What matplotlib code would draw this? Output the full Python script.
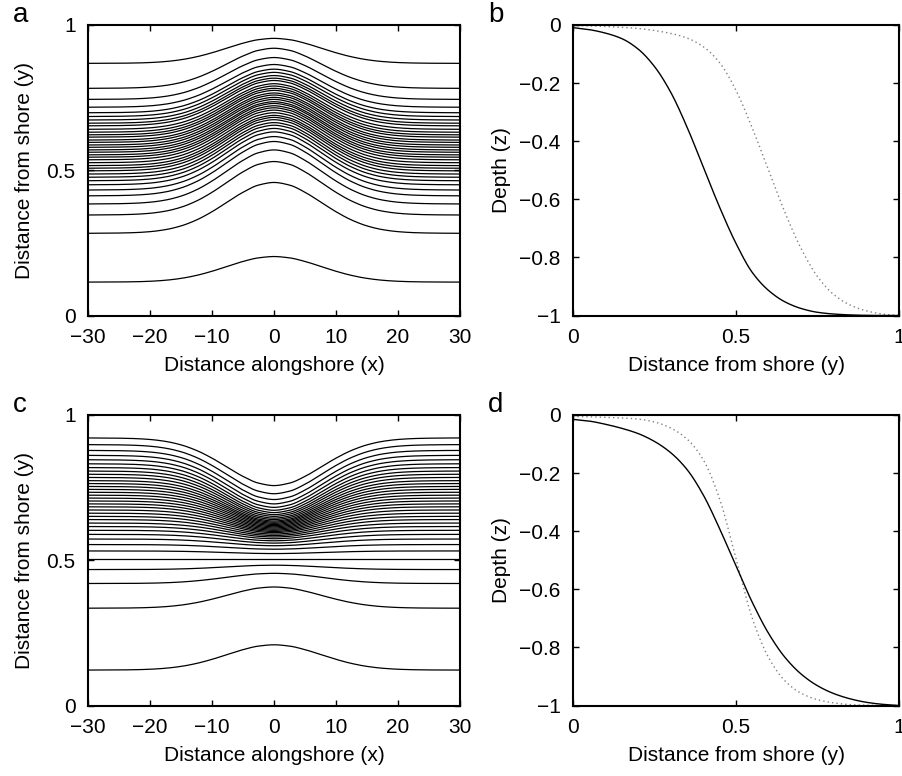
import numpy as np
import matplotlib
matplotlib.use("Agg")
import matplotlib.pyplot as plt

plt.rcParams['font.family'] = ['Liberation Sans', 'DejaVu Sans']

# ---------------- data ----------------
# alongshore bump weight (symmetric about x = 0)
bump_x = [-30, -27.5, -25, -22.5, -20, -17.5, -15, -12.5, -10, -7.5, -5, -2.5,
          0, 2.5, 5, 7.5, 10, 12.5, 15, 17.5, 20, 22.5, 25, 27.5, 30]
bump_w = [0.0, 0.0015, 0.005, 0.013, 0.032, 0.072, 0.145, 0.262, 0.424, 0.617, 0.807, 0.948,
          1.0, 0.948, 0.807, 0.617, 0.424, 0.262, 0.145, 0.072, 0.032, 0.013, 0.005, 0.0015, 0.0]

# panel a: contour positions far from the bump and at x = 0
a_far = [0.115, 0.283, 0.346, 0.384, 0.412, 0.432, 0.450, 0.464, 0.476, 0.487,
         0.498, 0.507, 0.516, 0.526, 0.536, 0.545, 0.553, 0.562, 0.570, 0.579,
         0.587, 0.596, 0.604, 0.614, 0.622, 0.631, 0.641, 0.653, 0.662, 0.673,
         0.685, 0.698, 0.717, 0.744, 0.782, 0.868]
a_mid = [0.203, 0.458, 0.530, 0.570, 0.599, 0.616, 0.632, 0.644, 0.655, 0.664,
         0.674, 0.682, 0.689, 0.698, 0.707, 0.715, 0.722, 0.730, 0.736, 0.744,
         0.751, 0.759, 0.766, 0.775, 0.782, 0.790, 0.798, 0.809, 0.817, 0.826,
         0.837, 0.848, 0.864, 0.888, 0.920, 0.954]

# panel c
c_far = [0.122, 0.335, 0.420, 0.468, 0.506, 0.532, 0.554, 0.573, 0.589, 0.603,
         0.616, 0.628, 0.640, 0.651, 0.662, 0.673, 0.684, 0.694, 0.704, 0.714,
         0.724, 0.734, 0.744, 0.754, 0.764, 0.774, 0.785, 0.796, 0.807, 0.819,
         0.832, 0.846, 0.861, 0.878, 0.898, 0.921]
c_mid = [0.209, 0.408, 0.455, 0.483, 0.506, 0.523, 0.538, 0.550, 0.559, 0.567,
         0.574, 0.580, 0.585, 0.590, 0.595, 0.599, 0.603, 0.607, 0.611, 0.615,
         0.619, 0.623, 0.627, 0.631, 0.635, 0.640, 0.645, 0.651, 0.657, 0.664,
         0.672, 0.682, 0.694, 0.709, 0.729, 0.757]

# depth profiles (y sampled every 0.05)
prof_y = [0.0, 0.05, 0.10, 0.15, 0.20, 0.25, 0.30, 0.35, 0.40, 0.45, 0.50,
          0.55, 0.60, 0.65, 0.70, 0.75, 0.80, 0.85, 0.90, 0.95, 1.0]
b_solid = [-0.009, -0.016, -0.028, -0.047, -0.083, -0.143, -0.232, -0.352, -0.490, -0.628, -0.752,
           -0.852, -0.914, -0.953, -0.976, -0.989, -0.995, -0.998, -0.9995, -1.0, -1.0]
b_dotted = [-0.002, -0.003, -0.005, -0.008, -0.012, -0.019, -0.029, -0.045, -0.075, -0.130, -0.225,
            -0.355, -0.500, -0.645, -0.770, -0.866, -0.928, -0.964, -0.984, -0.995, -1.0]
d_solid = [-0.015, -0.021, -0.032, -0.046, -0.064, -0.091, -0.130, -0.188, -0.276, -0.392, -0.520,
           -0.645, -0.752, -0.834, -0.892, -0.932, -0.959, -0.977, -0.989, -0.996, -1.0]
d_dotted = [-0.005, -0.006, -0.008, -0.010, -0.014, -0.024, -0.045, -0.083, -0.155, -0.290, -0.495,
            -0.700, -0.835, -0.915, -0.958, -0.980, -0.991, -0.997, -0.999, -1.0, -1.0]

x_ticks = [-30, -20, -10, 0, 10, 20, 30]
x_tick_labels = ["\u221230", "\u221220", "\u221210", "0", "10", "20", "30"]
y_ticks_map = [0, 0.5, 1]
y_tick_labels_map = ["0", "0.5", "1"]
z_ticks = [-1, -0.8, -0.6, -0.4, -0.2, 0]
z_tick_labels = ["\u22121", "\u22120.8", "\u22120.6", "\u22120.4", "\u22120.2", "0"]


# ---------------- helpers ----------------
def pchip(xk, yk, x):
    xk = np.asarray(xk, float)
    yk = np.asarray(yk, float)
    x = np.asarray(x, float)
    h = np.diff(xk)
    d = np.diff(yk) / h
    m = np.zeros_like(yk)
    for k in range(1, len(xk) - 1):
        if d[k - 1] * d[k] > 0:
            w1 = 2 * h[k] + h[k - 1]
            w2 = h[k] + 2 * h[k - 1]
            m[k] = (w1 + w2) / (w1 / d[k - 1] + w2 / d[k])
        else:
            m[k] = 0.0
    m[0] = d[0]
    m[-1] = d[-1]
    i = np.clip(np.searchsorted(xk, x) - 1, 0, len(xk) - 2)
    t = (x - xk[i]) / h[i]
    h00 = 2 * t**3 - 3 * t**2 + 1
    h10 = t**3 - 2 * t**2 + t
    h01 = -2 * t**3 + 3 * t**2
    h11 = t**3 - t**2
    return h00 * yk[i] + h10 * h[i] * m[i] + h01 * yk[i + 1] + h11 * h[i] * m[i + 1]


FS = 15


def style_axes(ax):
    for s in ax.spines.values():
        s.set_linewidth(1.5)
    ax.tick_params(direction='in', top=True, right=True, length=4, width=1,
                   labelsize=FS)
    ax.tick_params(axis='x', pad=9)
    ax.tick_params(axis='y', pad=9)


xx = np.linspace(-30, 30, 601)
gx = pchip(bump_x, bump_w, xx)
yy = np.linspace(0, 1, 401)

fig = plt.figure(figsize=(9.03, 7.76), dpi=100)

W, H = 903.0, 776.0
pos_a = [88 / W, 1 - 315.5 / H, 372 / W, 290.5 / H]
pos_b = [573 / W, 1 - 315.5 / H, 326 / W, 290.5 / H]
pos_c = [88 / W, 1 - 705.5 / H, 372 / W, 290.5 / H]
pos_d = [573 / W, 1 - 705.5 / H, 326 / W, 290.5 / H]


def map_panel(pos, far, mid):
    ax = fig.add_axes(pos)
    for yf, ym in zip(far, mid):
        ax.plot(xx, yf + (ym - yf) * gx, color='black', lw=0.9)
    ax.set_xlim(-30, 30)
    ax.set_ylim(0, 1)
    ax.set_xticks(x_ticks)
    ax.set_xticklabels(x_tick_labels)
    ax.set_yticks(y_ticks_map)
    ax.set_yticklabels(y_tick_labels_map)
    ax.set_xlabel("Distance alongshore (x)", fontsize=FS, labelpad=6.5)
    ax.set_ylabel("Distance from shore (y)", fontsize=FS, labelpad=9)
    style_axes(ax)
    return ax


def prof_panel(pos, solid, dotted):
    ax = fig.add_axes(pos)
    ax.plot(yy, pchip(prof_y, dotted, yy), color='#808080', lw=1.0, ls=(0, (1, 2.2)))
    ax.plot(yy, pchip(prof_y, solid, yy), color='black', lw=1.0)
    ax.set_xlim(0, 1)
    ax.set_ylim(-1, 0)
    ax.set_xticks([0, 0.5, 1])
    ax.set_xticklabels(["0", "0.5", "1"])
    ax.set_yticks(z_ticks)
    ax.set_yticklabels(z_tick_labels)
    ax.set_xlabel("Distance from shore (y)", fontsize=FS, labelpad=6.5)
    ax.set_ylabel("Depth (z)", fontsize=FS, labelpad=6)
    style_axes(ax)
    return ax


map_panel(pos_a, a_far, a_mid)
prof_panel(pos_b, b_solid, b_dotted)
map_panel(pos_c, c_far, c_mid)
prof_panel(pos_d, d_solid, d_dotted)

for lab, px, py in [('a', 21, 15), ('b', 496, 15), ('c', 20, 405), ('d', 496, 405)]:
    fig.text(px / W, 1 - py / H, lab, fontsize=20, ha='center', va='center')

fig.savefig("out.png", dpi=100)
